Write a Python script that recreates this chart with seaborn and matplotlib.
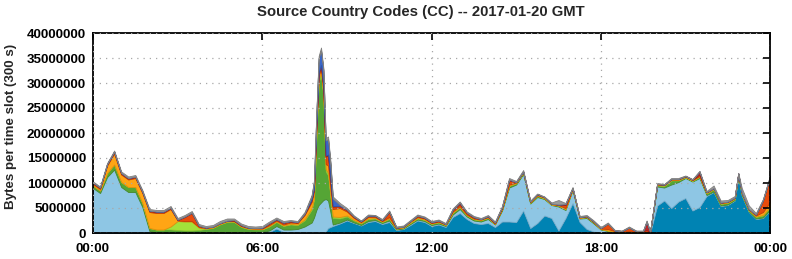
import matplotlib
matplotlib.use("Agg")
import matplotlib.pyplot as plt
from matplotlib.ticker import FuncFormatter, FixedLocator
import seaborn as sns
import numpy as np

# time of each sample, hours after 00:00 GMT
slot_hours = [
    0, 0.25, 0.5, 0.75,
    1, 1.25, 1.5, 1.75,
    2, 2.25, 2.5, 2.75,
    3, 3.25, 3.5, 3.75,
    4, 4.25, 4.5, 4.75,
    5, 5.25, 5.5, 5.75,
    6, 6.25, 6.5, 6.75,
    7, 7.25, 7.5, 7.75, 7.833, 7.917,
    8, 8.083, 8.167, 8.25, 8.333, 8.417, 8.5, 8.75,
    9, 9.25, 9.5, 9.75,
    10, 10.25, 10.5, 10.75,
    11, 11.25, 11.5, 11.75,
    12, 12.25, 12.5, 12.75,
    13, 13.25, 13.5, 13.75,
    14, 14.25, 14.5, 14.75,
    15, 15.25, 15.5, 15.75,
    16, 16.25, 16.5, 16.75,
    17, 17.25, 17.5, 17.75,
    18, 18.25, 18.5, 18.75,
    19, 19.25, 19.5, 19.625, 19.75,
    20, 20.25, 20.5, 20.75,
    21, 21.25, 21.5, 21.75,
    22, 22.25, 22.5, 22.75, 22.875,
    23, 23.25, 23.5, 23.75,
    24,
]

# bytes per slot, in millions, stacked bottom -> top
cc_darkblue = [
    0.2, 0.2, 0.2, 0.2,
    0.2, 0.2, 0.2, 0.2,
    0.1, 0.1, 0.1, 0.1,
    0.1, 0.1, 0.1, 0.1,
    0.1, 0.1, 0.1, 0.1,
    0.1, 0.1, 0.1, 0.1,
    0.1, 0.2, 0.9, 0.2,
    0.1, 0.1, 0.1, 0.1, 0.1, 0.1,
    0.1, 0.1, 0.1, 0.3, 1.0, 1.2, 1.4, 1.9,
    2.5, 2.0, 1.5, 2.2,
    2.4, 1.8, 2.2, 0.6,
    0.8, 1.6, 2.5, 2.2,
    1.4, 1.7, 1.2, 3.2,
    4.0, 2.8, 2.0, 1.8,
    2.0, 1.2, 2.3, 2.3,
    2.2, 4.5, 1.0, 2.0,
    3.5, 3.0, 0.5, 3.0,
    6.0, 2.2, 0.8, 0.3,
    0.1, 0.1, 0.0, 0.0,
    0.0, 0.0, 0.0, 0.0, 0.0,
    5.5, 6.5, 5.0, 6.3,
    7.0, 4.5, 5.2, 7.4,
    8.2, 5.4, 5.6, 6.5, 11.3,
    7.5, 4.2, 2.8, 3.0,
    4.5,
]
cc_lightblue = [
    8.8, 7.8, 11.0, 12.5,
    9.0, 8.0, 8.0, 5.0,
    0.3, 0.0, 0.0, 0.0,
    0.0, 0.0, 0.0, 0.0,
    0.0, 0.0, 0.0, 0.0,
    0.0, 0.0, 0.0, 0.0,
    0.1, 0.3, 0.5, 0.5,
    0.6, 0.7, 1.2, 2.0, 3.0, 4.5,
    5.5, 6.0, 6.5, 6.5, 5.5, 3.0, 0.3, 0.2,
    0.2, 0.1, 0.1, 0.2,
    0.2, 0.2, 0.3, 0.1,
    0.1, 0.2, 0.2, 0.2,
    0.2, 0.2, 0.2, 0.5,
    0.8, 0.5, 0.5, 0.5,
    0.8, 0.5, 2.2, 6.8,
    7.5, 7.3, 4.9, 5.2,
    3.3, 2.6, 4.8, 1.6,
    2.6, 0.7, 2.2, 1.6,
    0.6, 0.3, 0.2, 0.1,
    0.1, 0.1, 0.1, 0.1, 0.1,
    3.8, 2.6, 4.7, 3.9,
    4.0, 5.8, 5.8, 0.2,
    0.1, 0.1, 0.1, 0.1, 0.1,
    0.1, 0.1, 0.1, 0.1,
    0.1,
]
cc_green = [
    0.5, 0.5, 0.8, 1.0,
    1.0, 1.0, 1.0, 0.8,
    0.6, 0.6, 0.6, 0.6,
    0.5, 0.4, 0.4, 0.5,
    0.7, 0.9, 1.6, 2.1,
    2.1, 1.1, 0.7, 0.6,
    0.5, 0.8, 0.8, 0.7,
    1.0, 0.8, 1.2, 2.5, 3.5, 14.5,
    24.5, 25.5, 20.5, 5.5, 5.0, 3.0, 1.3, 0.8,
    0.6, 0.4, 0.3, 0.4,
    0.3, 0.2, 0.3, 0.2,
    0.2, 0.2, 0.2, 0.2,
    0.2, 0.2, 0.2, 0.3,
    0.3, 0.2, 0.2, 0.2,
    0.2, 0.1, 0.2, 0.3,
    0.2, 0.2, 0.1, 0.2,
    0.1, 0.1, 0.2, 0.2,
    0.2, 0.1, 0.2, 0.2,
    0.1, 0.1, 0.1, 0.1,
    0.1, 0.1, 0.1, 0.1, 0.1,
    0.2, 0.3, 0.8, 0.3,
    0.1, 0.1, 0.2, 0.3,
    0.4, 0.3, 0.3, 0.2, 0.2,
    0.2, 0.2, 0.3, 0.4,
    0.5,
]
cc_lightgreen = [
    0.0, 0.0, 0.0, 0.0,
    0.0, 0.0, 0.0, 0.0,
    0.0, 0.0, 0.0, 0.6,
    1.8, 1.8, 1.8, 0.5,
    0.1, 0.1, 0.1, 0.1,
    0.1, 0.1, 0.1, 0.1,
    0.1, 0.1, 0.1, 0.1,
    0.1, 0.1, 0.2, 0.3, 0.3, 0.4,
    0.6, 0.6, 0.6, 0.5, 0.5, 0.4, 0.3, 0.3,
    0.2, 0.1, 0.1, 0.1,
    0.1, 0.1, 0.1, 0.0,
    0.0, 0.1, 0.1, 0.1,
    0.1, 0.1, 0.0, 0.1,
    0.1, 0.1, 0.1, 0.1,
    0.1, 0.0, 0.1, 0.1,
    0.1, 0.1, 0.1, 0.1,
    0.1, 0.0, 0.0, 0.0,
    0.0, 0.0, 0.0, 0.0,
    0.0, 0.0, 0.0, 0.0,
    0.0, 0.0, 0.0, 0.0, 0.0,
    0.1, 0.1, 0.1, 0.1,
    0.1, 0.1, 0.1, 0.1,
    0.1, 0.1, 0.1, 0.1, 0.1,
    0.1, 0.1, 0.1, 0.1,
    0.1,
]
cc_orange = [
    0.3, 0.3, 1.5, 2.2,
    1.5, 1.5, 1.8, 2.0,
    3.2, 3.3, 3.3, 3.5,
    0.1, 0.1, 0.1, 0.1,
    0.1, 0.1, 0.1, 0.1,
    0.1, 0.1, 0.1, 0.1,
    0.1, 0.2, 0.2, 0.2,
    0.3, 0.3, 0.9, 1.3, 1.5, 1.3,
    0.8, 0.6, 0.7, 1.0, 1.5, 1.5, 1.5, 1.8,
    0.8, 0.4, 0.2, 0.3,
    0.2, 0.1, 0.3, 0.1,
    0.1, 0.2, 0.2, 0.2,
    0.1, 0.1, 0.1, 0.2,
    0.2, 0.1, 0.1, 0.1,
    0.1, 0.1, 0.1, 0.2,
    0.1, 0.1, 0.1, 0.1,
    0.1, 0.1, 0.1, 0.2,
    0.1, 0.1, 0.1, 0.1,
    0.1, 0.3, 0.1, 0.1,
    0.2, 0.1, 0.1, 0.1, 0.0,
    0.1, 0.1, 0.1, 0.1,
    0.1, 0.1, 0.1, 0.1,
    0.1, 0.1, 0.1, 0.1, 0.1,
    0.1, 0.1, 0.2, 0.6,
    1.0,
]
cc_redorange = [
    0.2, 0.2, 0.2, 0.3,
    0.2, 0.2, 0.2, 0.2,
    0.2, 0.2, 0.2, 0.2,
    0.1, 0.8, 1.6, 0.2,
    0.1, 0.1, 0.1, 0.1,
    0.1, 0.1, 0.1, 0.1,
    0.1, 0.3, 0.2, 0.3,
    0.2, 0.1, 0.2, 0.4, 0.4, 0.5,
    0.5, 0.6, 0.8, 1.5, 2.0, 1.5, 0.5, 0.3,
    0.3, 0.2, 0.1, 0.2,
    0.2, 0.1, 1.0, 0.1,
    0.1, 0.1, 0.2, 0.1,
    0.1, 0.1, 0.1, 0.3,
    0.4, 0.3, 0.2, 0.1,
    0.1, 0.1, 0.2, 0.8,
    0.1, 0.1, 0.1, 0.1,
    0.1, 0.1, 0.1, 0.6,
    0.1, 0.1, 0.1, 0.1,
    0.1, 1.1, 0.1, 0.1,
    0.7, 0.1, 0.1, 0.3, 0.0,
    0.1, 0.1, 0.1, 0.1,
    0.1, 0.1, 0.3, 0.1,
    0.1, 0.1, 0.1, 0.1, 0.1,
    0.1, 0.1, 0.2, 2.3,
    5.0,
]
cc_darkred = [
    0.1, 0.1, 0.1, 0.1,
    0.1, 0.1, 0.1, 0.1,
    0.1, 0.1, 0.1, 0.1,
    0.1, 0.1, 0.1, 0.1,
    0.0, 0.0, 0.0, 0.0,
    0.1, 0.1, 0.0, 0.0,
    0.1, 0.1, 0.1, 0.1,
    0.1, 0.1, 0.1, 0.1, 0.1, 0.1,
    0.1, 0.2, 0.2, 0.2, 0.2, 0.2, 0.1, 0.1,
    0.1, 0.1, 0.1, 0.1,
    0.1, 0.1, 0.1, 0.0,
    0.0, 0.0, 0.1, 0.1,
    0.1, 0.1, 0.0, 0.1,
    0.3, 0.1, 0.1, 0.0,
    0.1, 0.1, 0.1, 0.2,
    0.0, 0.0, 0.0, 0.1,
    0.0, 0.0, 0.0, 0.2,
    0.0, 0.0, 0.0, 0.0,
    0.0, 0.0, 0.0, 0.0,
    0.0, 0.0, 0.0, 1.7, 0.0,
    0.0, 0.0, 0.0, 0.0,
    0.0, 0.0, 0.6, 0.0,
    0.0, 0.0, 0.0, 0.0, 0.0,
    0.0, 0.0, 0.0, 0.1,
    0.1,
]
cc_blue = [
    0.0, 0.0, 0.0, 0.0,
    0.0, 0.0, 0.0, 0.0,
    0.0, 0.0, 0.0, 0.0,
    0.0, 0.0, 0.0, 0.0,
    0.0, 0.0, 0.0, 0.0,
    0.0, 0.0, 0.0, 0.0,
    0.0, 0.0, 0.0, 0.0,
    0.0, 0.0, 0.0, 0.6, 1.3, 2.2,
    2.8, 3.0, 3.1, 3.0, 3.1, 3.0, 1.5, 0.2,
    0.0, 0.0, 0.0, 0.0,
    0.0, 0.0, 0.0, 0.0,
    0.0, 0.0, 0.0, 0.0,
    0.0, 0.0, 0.0, 0.0,
    0.0, 0.0, 0.0, 0.0,
    0.0, 0.0, 0.0, 0.0,
    0.0, 0.0, 0.0, 0.0,
    0.0, 0.0, 0.0, 0.0,
    0.0, 0.0, 0.0, 0.0,
    0.0, 0.0, 0.0, 0.0,
    0.0, 0.0, 0.0, 0.0, 0.0,
    0.0, 0.0, 0.0, 0.0,
    0.0, 0.0, 0.0, 0.0,
    0.0, 0.0, 0.0, 0.0, 0.0,
    0.0, 0.0, 0.0, 0.0,
    0.0,
]
cc_gray = [
    0.2, 0.2, 0.2, 0.2,
    0.3, 0.3, 0.3, 0.3,
    0.3, 0.3, 0.3, 0.3,
    0.3, 0.3, 0.3, 0.3,
    0.3, 0.3, 0.4, 0.4,
    0.3, 0.3, 0.3, 0.3,
    0.3, 0.3, 0.3, 0.3,
    0.2, 0.2, 0.3, 0.3, 0.3, 0.4,
    0.5, 0.5, 0.5, 0.5, 0.5, 0.5, 0.4, 0.4,
    0.3, 0.2, 0.1, 0.2,
    0.1, 0.2, 0.2, 0.2,
    0.2, 0.2, 0.2, 0.2,
    0.2, 0.2, 0.2, 0.2,
    0.2, 0.2, 0.2, 0.2,
    0.2, 0.2, 0.2, 0.3,
    0.2, 0.3, 0.2, 0.1,
    0.1, 0.2, 0.9, 0.2,
    0.2, 0.2, 0.2, 0.2,
    0.2, 0.2, 0.1, 0.1,
    0.2, 0.1, 0.1, 0.2, 0.1,
    0.2, 0.1, 0.2, 0.2,
    0.1, 0.1, 0.1, 0.2,
    0.5, 0.4, 0.3, 0.3, 0.1,
    0.9, 0.7, 0.3, 0.2,
    0.2,
]

y_ticks = [0, 5000000, 10000000, 15000000, 20000000, 25000000, 30000000, 35000000, 40000000]
x_ticks = [0, 6, 12, 18, 24]
x_labels = ["00:00", "06:00", "12:00", "18:00", "00:00"]

series = [cc_darkblue, cc_lightblue, cc_green, cc_lightgreen, cc_orange,
          cc_redorange, cc_darkred, cc_blue, cc_gray]
colors = ["#0083b3", "#8ec6e4", "#55a535", "#a2e03a", "#ffa514",
          "#e84c0c", "#b8282a", "#3a66c8", "#9a9a9a"]
edges = ["#1a6f93", "#79b0cf", "#468a2b", "#8cc52e", "#e08f0c",
         "#c23e08", "#96201f", "#2f55a8", "#808080"]

sns.set_style("white")
plt.rcParams["font.family"] = ["Liberation Sans", "DejaVu Sans"]
plt.rcParams["font.weight"] = "bold"

fig = plt.figure(figsize=(7.92, 2.59), dpi=100)
ax = fig.add_axes([93 / 792, 1 - 233 / 259, (770 - 93) / 792, 200 / 259])

x = np.array(slot_hours)
ys = [np.array(s) * 1e6 for s in series]
polys = ax.stackplot(x, *ys, colors=colors, linewidth=0.6)
for p, ec in zip(polys, edges):
    p.set_edgecolor(ec)

ax.set_xlim(0, 24)
ax.set_ylim(0, 40000000)
ax.xaxis.set_major_locator(FixedLocator(x_ticks))
ax.set_xticklabels(x_labels)
ax.yaxis.set_major_locator(FixedLocator(y_ticks))
ax.yaxis.set_major_formatter(FuncFormatter(lambda v, p: f"{int(v)}"))

ax.grid(True, color="#a8a8a8", linestyle=(0, (1, 4)), linewidth=0.9)
ax.set_axisbelow(False)
for sp in ax.spines.values():
    sp.set_color("black")
    sp.set_linewidth(1.3)
ax.tick_params(axis="both", which="major", direction="in", length=5, width=1.2,
               top=True, right=True, labelsize=9.6, colors="black")
ax.tick_params(axis="x", pad=7)
ax.tick_params(axis="y", pad=5)
for lbl in ax.get_xticklabels() + ax.get_yticklabels():
    lbl.set_fontweight("bold")

fig.text(11 / 792, 1 - 126 / 259, "Bytes per time slot (300 s)", rotation=90,
         ha="center", va="center", fontsize=9.6, fontweight="bold")
fig.text(421 / 792, 1 - 12 / 259, "Source Country Codes (CC) -- 2017-01-20 GMT",
         ha="center", va="center", fontsize=10.7, fontweight="bold")

fig.savefig("out.png", dpi=100)
